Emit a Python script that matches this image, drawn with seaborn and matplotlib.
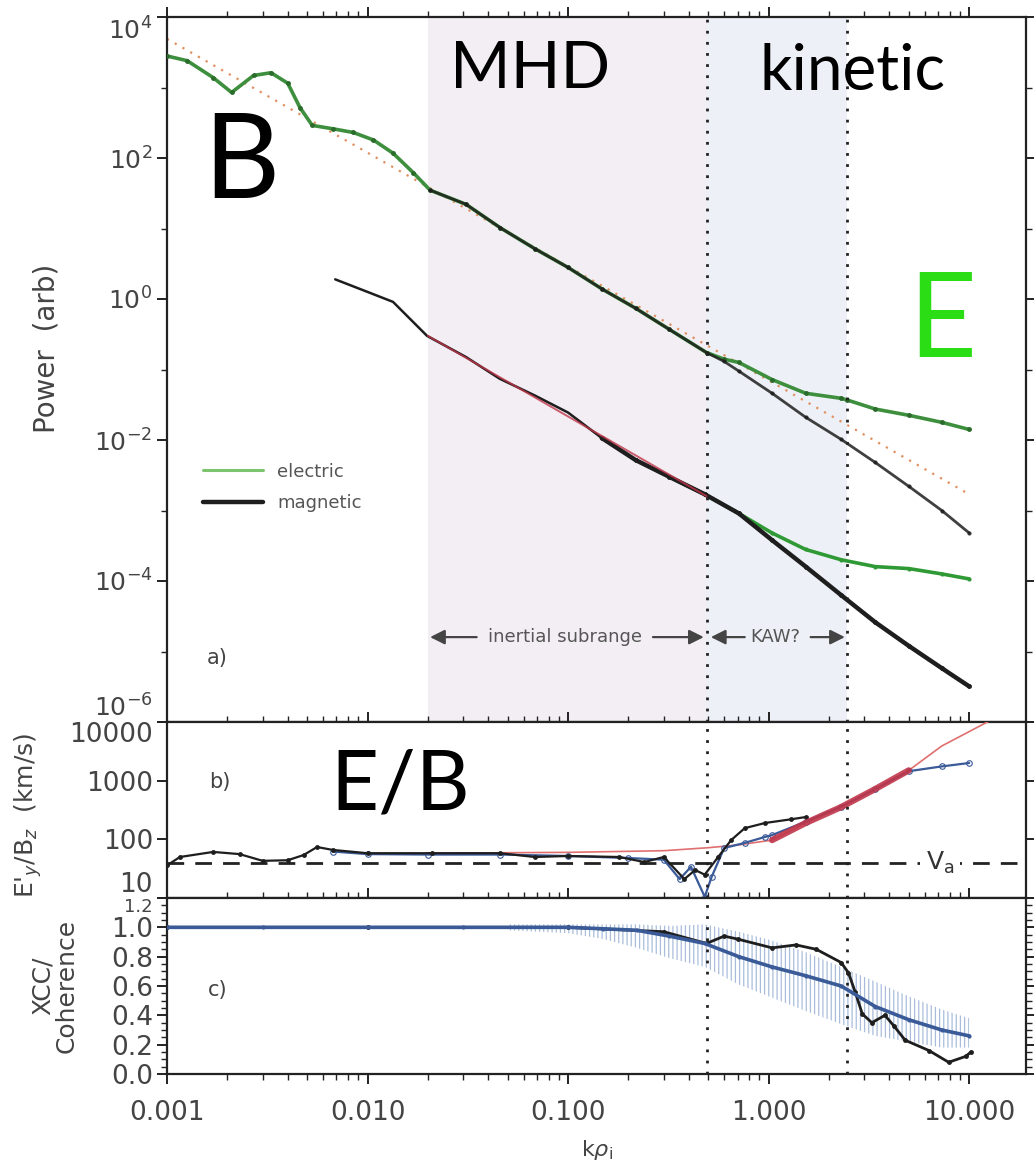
import numpy as np
import pandas as pd
import matplotlib
matplotlib.use("Agg")
import matplotlib.pyplot as plt
import seaborn as sns
from matplotlib.ticker import FixedLocator, FuncFormatter, LogLocator, MultipleLocator, NullFormatter
from matplotlib.lines import Line2D

# ---------------- data ----------------
# panel a: upper spectra
k_e_hi = [0.001, 0.00126, 0.0017, 0.0021, 0.0027, 0.0033, 0.004, 0.0046, 0.0053, 0.0067,
          0.0085, 0.0107, 0.0134, 0.0169, 0.0205, 0.031, 0.046, 0.068, 0.1, 0.148, 0.217,
          0.32, 0.49, 0.6, 0.71, 1.04, 1.53, 2.3, 2.46, 3.4, 5.0, 7.3, 10.0]
p_e_hi = [2.8e3, 2.4e3, 1.38e3, 8.5e2, 1.48e3, 1.62e3, 1.15e3, 5.2e2, 2.9e2, 2.6e2,
          2.3e2, 1.8e2, 1.17e2, 62, 35, 22, 10.2, 5.2, 2.8, 1.38, 0.74,
          0.37, 0.174, 0.14, 0.126, 0.072, 0.046, 0.039, 0.037, 0.0275, 0.0224, 0.0178, 0.0141]
k_b_hi = [0.0205, 0.031, 0.046, 0.068, 0.1, 0.148, 0.217, 0.32, 0.49, 0.6, 0.71, 1.04,
          1.53, 2.3, 3.4, 5.0, 7.3, 10.0]
p_b_hi = [35, 22, 10.2, 5.2, 2.8, 1.38, 0.74, 0.37, 0.174, 0.13, 0.095, 0.046,
          0.021, 0.0102, 4.8e-3, 2.2e-3, 1.0e-3, 4.8e-4]
# panel a: lower spectra
k_b_lo = [0.0069, 0.010, 0.0134, 0.0198, 0.031, 0.0456, 0.068, 0.1, 0.147, 0.217, 0.32,
          0.48, 0.71, 1.04, 1.53, 2.3, 3.4, 5.0, 7.3, 10.0]
p_b_lo = [1.9, 1.26, 0.91, 0.30, 0.15, 0.074, 0.043, 0.0245, 0.0107, 5.2e-3, 3.0e-3,
          1.7e-3, 9.1e-4, 3.8e-4, 1.6e-4, 6.3e-5, 2.6e-5, 1.2e-5, 5.8e-6, 3.2e-6]
k_e_lo = [0.32, 0.48, 0.71, 1.04, 1.53, 2.3, 3.4, 5.0, 7.3, 10.0]
p_e_lo = [3.0e-3, 1.7e-3, 9.1e-4, 4.8e-4, 2.8e-4, 2.0e-4, 1.6e-4, 1.5e-4, 1.26e-4, 1.07e-4]
# fits in panel a
k_fit_hi = [0.001, 10.0]
p_fit_hi = [4.9e3, 1.7e-3]
k_fit_lo = [0.02, 0.49]
p_fit_lo = [0.30, 1.6e-3]

# panel b: E/B ratio
k_ratio_blk = [0.001, 0.00116, 0.0017, 0.0023, 0.003, 0.004, 0.0048, 0.0056, 0.0067, 0.01,
               0.021, 0.046, 0.068, 0.1, 0.18, 0.24, 0.3, 0.38, 0.43, 0.48, 0.56, 0.65,
               0.76, 0.96, 1.3, 1.53]
v_ratio_blk = [36, 50, 61, 56, 43, 44, 54, 74, 66, 58, 58, 58, 50, 52, 50, 41, 50, 21, 30,
               25, 50, 97, 155, 190, 220, 240]
k_ratio_blu = [0.0067, 0.01, 0.02, 0.046, 0.1, 0.2, 0.3, 0.36, 0.41, 0.48, 0.52, 0.6, 0.76,
               0.96, 1.04, 1.53, 2.3, 3.4, 5.0, 7.3, 10.0]
v_ratio_blu = [62, 56, 55, 55, 52, 48, 45, 21, 34, 10.5, 23, 71, 87, 110, 118, 200, 360,
               720, 1450, 1750, 2000]
k_ratio_red = [1.04, 1.53, 2.3, 3.4, 5.0]
v_ratio_red = [97, 190, 355, 720, 1500]
k_theory = [0.02, 0.1, 0.3, 0.5, 0.7, 1.04, 1.53, 2.3, 3.4, 5.0, 7.3, 13.0]
v_theory = [58, 60, 64, 72, 80, 97, 190, 355, 720, 1500, 3900, 11000]
v_alfven = 40

# panel c: coherence / cross-correlation
k_coh = [0.001, 0.003, 0.01, 0.03, 0.1, 0.15, 0.22, 0.32, 0.48, 0.71, 1.04, 1.53, 2.3,
         3.4, 5.0, 7.3, 10.0]
v_coh = [1.0, 1.0, 1.0, 1.0, 1.0, 0.99, 0.98, 0.94, 0.89, 0.80, 0.73, 0.67, 0.60, 0.46,
         0.37, 0.30, 0.26]
k_band = [0.05, 0.1, 0.15, 0.22, 0.32, 0.48, 0.71, 1.04, 1.53, 2.3, 3.4, 5.0, 7.3, 10.0]
band_lo = [0.98, 0.96, 0.92, 0.86, 0.79, 0.73, 0.61, 0.52, 0.43, 0.34, 0.26, 0.22, 0.18, 0.18]
band_hi = [1.02, 1.02, 1.02, 1.02, 1.01, 1.02, 0.97, 0.91, 0.83, 0.73, 0.63, 0.53, 0.44, 0.38]
k_xcc = [0.001, 0.01, 0.1, 0.3, 0.49, 0.6, 0.7, 1.04, 1.37, 1.73, 2.3, 2.5, 2.7, 2.93, 3.27,
         3.8, 4.2, 4.8, 6.3, 7.9, 9.6, 10.2]
v_xcc = [1.0, 1.0, 1.0, 0.97, 0.89, 0.94, 0.92, 0.86, 0.88, 0.85, 0.76, 0.69, 0.56, 0.41,
         0.35, 0.40, 0.33, 0.23, 0.16, 0.08, 0.12, 0.15]

# ranges
k_mhd = (0.02, 0.49)
k_kin = (0.49, 2.46)
x_ticks = [0.001, 0.01, 0.1, 1.0, 10.0]
x_ticklabels = ["0.001", "0.010", "0.100", "1.000", "10.000"]

# ---------------- figure ----------------
sns.set_theme(style="ticks")
plt.rcParams["font.family"] = ["DejaVu Sans"]
plt.rcParams["axes.linewidth"] = 1.6
plt.rcParams["axes.edgecolor"] = "#222222"
plt.rcParams["hatch.linewidth"] = 0.9

W, H = 1034, 1164
fig = plt.figure(figsize=(W / 100, H / 100), dpi=100)
L, R = 167 / W, 1026 / W
def fy(y):
    return 1 - y / H
axa = fig.add_axes([L, fy(722), R - L, fy(17) - fy(722)])
axb = fig.add_axes([L, fy(898), R - L, fy(722) - fy(898)], sharex=axa)
axc = fig.add_axes([L, fy(1074), R - L, fy(898) - fy(1074)], sharex=axa)

for ax in (axa, axb, axc):
    ax.set_xscale("log")
axa.set_yscale("log")
axb.set_yscale("log")

green = "#3d8f3d"
dkgreen = "#2b6b2b"
black = "#1e1e1e"
blue = "#3a5a98"
red = "#c0364a"

# ---- panel a ----
axa.axvspan(*k_mhd, color="#f3eef4", lw=0, zorder=0)
axa.axvspan(*k_kin, color="#edf1f7", lw=0, zorder=0)
sns.lineplot(x=k_fit_hi, y=p_fit_hi, ax=axa, color="#e09060", lw=1.6,
             linestyle=(0, (1, 3)), zorder=2)
sns.lineplot(x=k_e_hi, y=p_e_hi, ax=axa, color=green, lw=2.6, marker="o", markersize=3.5,
             markeredgewidth=0, markerfacecolor=dkgreen, zorder=3)
sns.lineplot(x=k_b_hi, y=p_b_hi, ax=axa, color=black, lw=2.0, marker="o", markersize=3,
             markeredgewidth=0, zorder=4, alpha=0.85)
sns.lineplot(x=k_e_lo, y=p_e_lo, ax=axa, color="#2f9a35", lw=2.6, marker="o", markersize=3,
             markeredgewidth=0, zorder=3)
sns.lineplot(x=k_b_lo, y=p_b_lo, ax=axa, color=black, lw=1.8, zorder=4)
sns.lineplot(x=k_b_lo[8:], y=p_b_lo[8:], ax=axa, color=black, lw=3.2, marker="o",
             markersize=3.5, markeredgewidth=0, zorder=4)
sns.lineplot(x=k_fit_lo, y=p_fit_lo, ax=axa, color=red, lw=1.4, zorder=5, alpha=0.8)

axa.set_ylim(1e-6, 1e4)
axa.set_yticks([1e-6, 1e-4, 1e-2, 1e0, 1e2, 1e4])
axa.yaxis.set_major_formatter(FuncFormatter(lambda v, p: r"$10^{%d}$" % round(np.log10(v))))
axa.yaxis.set_minor_locator(FixedLocator([1e-5, 1e-3, 1e-1, 1e1, 1e3]))
axa.yaxis.set_minor_formatter(NullFormatter())
axa.set_ylabel("Power  (arb)", fontsize=20, color="#444444")
axa.yaxis.set_label_coords(-0.124, 0.53)

leg_handles = [Line2D([], [], color="#7cc46e", lw=2.2), Line2D([], [], color=black, lw=3.2)]
leg = axa.legend(leg_handles, ["electric", "magnetic"], loc="upper left",
                 bbox_to_anchor=(0.042, 0.368), frameon=False, fontsize=13,
                 handlelength=3.3, handletextpad=0.8, labelspacing=0.75,
                 borderaxespad=0, borderpad=0)
for t in leg.get_texts():
    t.set_color("#555555")

axa.text(0.059, 0.091, "a)", transform=axa.transAxes, fontsize=15, color="#444444",
         ha="center", va="center")

# arrows
y_arr = 1.6e-5
arrow_kw = dict(arrowstyle="-|>", color="#444444", lw=1.6, mutation_scale=22,
                shrinkA=0, shrinkB=0)
axa.annotate("", xy=(0.0205, y_arr), xytext=(0.035, y_arr), arrowprops=arrow_kw)
axa.annotate("", xy=(0.475, y_arr), xytext=(0.265, y_arr), arrowprops=arrow_kw)
axa.text(0.0965, y_arr, "inertial subrange", fontsize=13, color="#555555",
         ha="center", va="center")
axa.annotate("", xy=(0.515, y_arr), xytext=(0.76, y_arr), arrowprops=arrow_kw)
axa.annotate("", xy=(2.4, y_arr), xytext=(1.62, y_arr), arrowprops=arrow_kw)
axa.text(1.08, y_arr, "KAW?", fontsize=13, color="#555555", ha="center", va="center")

# ---- panel b ----
axb.axhline(v_alfven, color="#222222", lw=2, linestyle=(0, (6, 4)), zorder=2)
sns.lineplot(x=k_theory, y=v_theory, ax=axb, color="#e07070", lw=1.2, zorder=3)
sns.lineplot(x=k_ratio_blu, y=v_ratio_blu, ax=axb, color=blue, lw=1.6, marker="o",
             markersize=4, markerfacecolor="none", markeredgecolor=blue,
             markeredgewidth=0.8, zorder=4)
sns.lineplot(x=k_ratio_blk, y=v_ratio_blk, ax=axb, color=black, lw=1.6, marker="o",
             markersize=3.5, markeredgewidth=0, zorder=5)
sns.lineplot(x=k_ratio_red, y=v_ratio_red, ax=axb, color=red, lw=4.5, zorder=6, alpha=0.9)
axb.text(1 - (1026 - 940) / 859, v_alfven, r"V$_{\rm a}$", transform=axb.get_yaxis_transform(),
         fontsize=18, color="#333333", ha="center", va="center",
         bbox=dict(facecolor="white", edgecolor="none", pad=4), zorder=7)
axb.set_ylim(10, 10000)
axb.set_yticks([10, 100, 1000, 10000])
axb.set_yticklabels(["10", "100", "1000", "10000"])
axb.yaxis.set_minor_locator(LogLocator(base=10, subs=np.arange(2, 10)))
axb.yaxis.set_minor_formatter(NullFormatter())
axb.set_ylabel(r"E'$_y$/B$_z$  (km/s)", fontsize=18, color="#444444")
axb.yaxis.set_label_coords(-0.143, 0.47)
axb.text(0.062, 0.66, "b)", transform=axb.transAxes, fontsize=15, color="#444444",
         ha="center", va="center")

# ---- panel c ----
axc.fill_between(k_band, band_lo, band_hi, facecolor="none", edgecolor="#a9bddb",
                 hatch="||||", lw=0, zorder=1)
sns.lineplot(x=k_xcc, y=v_xcc, ax=axc, color=black, lw=2.0, marker="o", markersize=3.5,
             markeredgewidth=0, zorder=3)
sns.lineplot(x=k_coh, y=v_coh, ax=axc, color=blue, lw=2.6, marker="o", markersize=3,
             markeredgewidth=0, zorder=4)
axc.set_ylim(0.0, 1.2)
axc.set_yticks(np.arange(0, 1.21, 0.2))
axc.set_yticklabels(["0.0", "0.2", "0.4", "0.6", "0.8", "1.0", "1.2"])
axc.yaxis.set_minor_locator(MultipleLocator(0.05))
axc.set_ylabel("XCC/\nCoherence", fontsize=18, color="#444444", linespacing=1.0)
axc.yaxis.set_label_coords(-0.103, 0.5)
axc.text(0.059, 0.477, "c)", transform=axc.transAxes, fontsize=15, color="#444444",
         ha="center", va="center")

# ---- shared x / ticks ----
for ax in (axa, axb, axc):
    for kv in (k_kin[0], k_kin[1]):
        ax.axvline(kv, color="#222222", lw=2.0, linestyle=(0, (1, 3)), zorder=6)
    ax.tick_params(which="both", direction="out", top=True, right=True, colors="#222222",
                   labelcolor="#444444")
    ax.tick_params(which="major", length=7, width=1.4)
    ax.tick_params(which="minor", length=4, width=1.0)
    ax.set_xlabel("")
axa.set_xlim(0.001, 19.2)
axc.set_xticks(x_ticks)
axc.set_xticklabels(x_ticklabels)
axc.xaxis.set_minor_locator(LogLocator(base=10, subs=np.arange(2, 10)))
axc.xaxis.set_minor_formatter(NullFormatter())
axa.tick_params(axis="y", labelsize=18)
axb.tick_params(axis="y", labelsize=19, pad=3)
axc.tick_params(axis="y", labelsize=19, pad=3)
axc.tick_params(axis="x", labelsize=19, pad=12)
axa.tick_params(labelbottom=False)
axb.tick_params(labelbottom=False)
axc.set_xlabel(r"k$\rho_{\rm i}$", fontsize=16, color="#444444", labelpad=8)

# stacked end labels sit off their ticks, as in the reference
ta = axa.yaxis.get_major_ticks()
ta[0].label1.set_verticalalignment("bottom")   # 10^-6 above the panel boundary
ta[-1].label1.set_verticalalignment("top")     # 10^4 below the top
tb = axb.yaxis.get_major_ticks()
tb[0].label1.set_verticalalignment("bottom")   # 10
tb[-1].label1.set_verticalalignment("top")     # 10000
tc = axc.yaxis.get_major_ticks()
tc[-1].label1.set_verticalalignment("top")     # 1.2
tc[-1].label1.set_fontsize(13)

# ---- big overlay text ----
big = dict(fontfamily=["Lato", "DejaVu Sans"], va="baseline", ha="left", color="black")
fig.text(450 / W, fy(88), "MHD", fontsize=47, **big)
fig.text(760 / W, fy(90), "kinetic", fontsize=46, **big)
fig.text(203 / W, fy(198), "B", fontsize=85, **big)
fig.text(330 / W, fy(810), "E/B", fontsize=60, **big)
big_e = dict(big)
big_e["color"] = "#2add14"
fig.text(908 / W, fy(357), "E", fontsize=85, **big_e)

fig.savefig("out.png", dpi=100)
